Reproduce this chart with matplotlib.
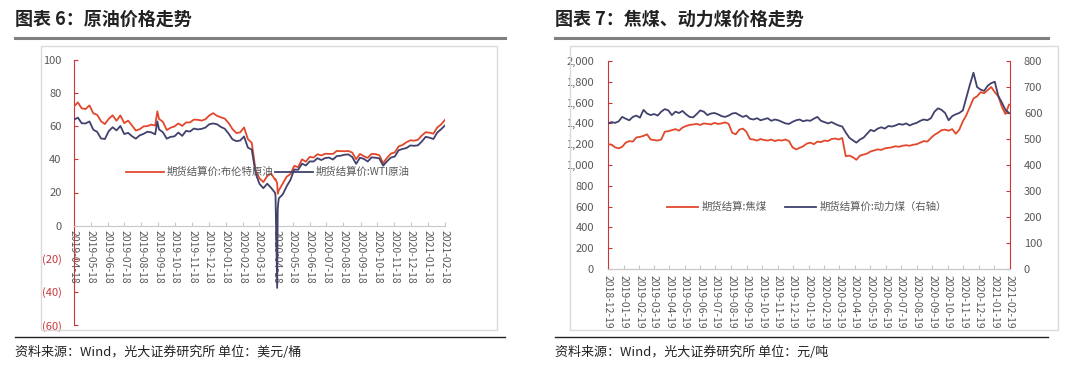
import matplotlib
matplotlib.use('Agg')
import matplotlib.pyplot as plt
from matplotlib.lines import Line2D
import numpy as np
import pandas as pd

plt.rcParams['font.family'] = ['Noto Sans CJK SC', 'DejaVu Sans']
plt.rcParams['axes.unicode_minus'] = False

# ---------------- data: crude oil (weekly from 2019-04-18) ----------------
brent = [72.0, 74.4, 70.8, 70.4, 72.6, 67.8, 66.9, 63.0, 61.3, 64.5, 66.6, 63.3,
         66.5, 61.9, 63.4, 60.5, 57.4, 58.2, 59.9, 60.1, 61.0, 60.4, 64.4, 62.7,
         57.7, 59.1, 59.9, 61.7, 60.2, 62.3, 62.3, 64.0, 63.9, 63.4, 64.2, 66.5,
         67.9, 66.3, 65.4, 64.6, 62.0, 58.3, 55.9, 56.3, 59.3, 52.2, 50.0, 33.2,
         28.5, 26.3, 29.9, 31.5, 27.8, 21.3, 25.3, 29.5, 31.1, 36.1, 35.3, 40.0,
         38.6, 41.5, 41.1, 43.1, 42.4, 43.4, 43.3, 43.3, 45.1, 45.0, 44.9, 45.1,
         44.1, 40.1, 43.3, 41.9, 40.9, 43.3, 43.2, 42.5, 37.7, 40.9, 43.5, 44.2,
         47.8, 48.7, 50.3, 51.5, 51.3, 51.8, 54.4, 56.4, 56.1, 55.5, 59.3, 61.1,
         63.9]
wti = [64.0, 65.2, 61.8, 61.7, 62.9, 57.9, 56.6, 52.6, 52.3, 57.1, 59.4, 57.5,
       60.2, 55.3, 56.0, 54.0, 52.5, 54.5, 55.4, 56.7, 56.3, 55.1, 58.1, 56.4,
       52.5, 53.6, 53.9, 56.2, 54.2, 57.2, 56.8, 58.6, 58.1, 58.4, 59.2, 61.2,
       61.7, 61.2, 59.6, 58.5, 55.6, 52.1, 51.0, 51.4, 53.8, 47.1, 45.9, 31.5,
       25.2, 22.6, 25.3, 22.8, 19.9, 16.5, 18.8, 23.6, 27.6, 33.9, 33.7, 37.4,
       36.3, 38.8, 38.7, 40.7, 39.6, 40.8, 41.1, 39.9, 42.0, 42.2, 42.8, 43.0,
       41.4, 37.3, 41.0, 40.3, 38.7, 41.2, 41.0, 40.6, 36.2, 38.8, 41.1, 41.7,
       45.5, 46.3, 46.8, 48.4, 48.2, 48.5, 50.8, 53.6, 53.1, 52.3, 56.2, 58.2,
       60.5]
oil_extra_dates = ['2019-09-16', '2020-04-17', '2020-04-20', '2020-04-21', '2020-04-22']
oil_extra_brent = [69.0, 28.1, 25.6, 19.3, 20.4]
oil_extra_wti = [62.9, 18.3, -37.6, 10.0, 13.8]

# ---------------- data: coal (weekly from 2018-12-19) ----------------
coking = [1200, 1195, 1170, 1160, 1175, 1215, 1230, 1225, 1265, 1270, 1280, 1295,
          1245, 1240, 1235, 1245, 1320, 1325, 1335, 1345, 1330, 1360, 1375, 1385,
          1390, 1395, 1385, 1400, 1395, 1390, 1405, 1395, 1400, 1410, 1395, 1310,
          1295, 1340, 1350, 1320, 1250, 1245, 1235, 1250, 1240, 1235, 1245, 1230,
          1240, 1235, 1245, 1230, 1170, 1150, 1165, 1180, 1205, 1215, 1200, 1225,
          1220, 1235, 1230, 1250, 1255, 1245, 1260, 1085, 1090, 1075, 1050, 1090,
          1100, 1110, 1130, 1140, 1150, 1145, 1160, 1165, 1170, 1180, 1175, 1185,
          1190, 1185, 1195, 1200, 1215, 1230, 1225, 1260, 1290, 1310, 1335, 1340,
          1330, 1345, 1300, 1340, 1420, 1480, 1560, 1640, 1660, 1700, 1690, 1720,
          1750, 1700, 1660, 1560, 1490, 1580]
thermal = [560, 565, 562, 568, 585, 578, 572, 585, 590, 582, 612, 598,
           592, 596, 590, 605, 615, 610, 592, 605, 600, 608, 595, 585,
           583, 596, 610, 605, 592, 598, 600, 595, 588, 585, 590, 598,
           600, 592, 585, 590, 578, 575, 580, 572, 576, 580, 570, 575,
           572, 566, 560, 558, 566, 572, 575, 568, 572, 570, 578, 585,
           570, 565, 560, 565, 558, 552, 548, 525, 505, 495, 486, 498,
           505, 520, 535, 530, 540, 545, 540, 550, 548, 552, 558, 555,
           560, 552, 558, 562, 570, 575, 572, 580, 605, 618, 612, 600,
           572, 588, 595, 600, 610, 660, 710, 755, 700, 690, 685, 705,
           715, 720, 665, 640, 612, 600]

oil_ticks = pd.date_range('2019-04-18', '2021-02-18', freq=pd.DateOffset(months=1))
coal_ticks = pd.date_range('2018-12-19', '2021-02-19', freq=pd.DateOffset(months=1))

RED = '#E2482B'
NAVY = '#40416C'
AXRED = '#C8363A'
GRAY = '#595959'

W, H = 1080, 368
fig = plt.figure(figsize=(W / 100, H / 100), dpi=100)


def fx(x):
    return x / W


def fy(y):
    return 1 - y / H


def frame(x0, x1, title, source, bx0, bx1):
    fig.text(fx(x0), fy(19), title, fontsize=13, fontweight='bold', color='#222222', va='center')
    fig.add_artist(Line2D([fx(x0), fx(x1)], [fy(38), fy(38)], color='#7F7F7F', lw=2.2))
    fig.add_artist(plt.Rectangle((fx(bx0), fy(330)), fx(bx1) - fx(bx0), fy(46) - fy(330),
                                 fill=False, ec='#DADADA', lw=1))
    fig.add_artist(Line2D([fx(x0), fx(x1)], [fy(337), fy(337)], color='#222222', lw=1))
    fig.text(fx(x0), fy(352), source, fontsize=9.4, color='#222222', va='center')


frame(15, 505, '图表 6：原油价格走势', '资料来源：Wind，光大证券研究所 单位：美元/桶', 41, 497)
frame(555, 1048, '图表 7：焦煤、动力煤价格走势', '资料来源：Wind，光大证券研究所 单位：元/吨', 570, 1058)

# ---------------- left chart ----------------
oil = pd.DataFrame({'brent': brent, 'wti': wti},
                   index=pd.date_range('2019-04-18', periods=len(brent), freq='7D'))
extra = pd.DataFrame({'brent': oil_extra_brent, 'wti': oil_extra_wti},
                     index=pd.to_datetime(oil_extra_dates))
oil = pd.concat([oil, extra]).sort_index()

ax = fig.add_axes([fx(74), fy(325), fx(445) - fx(74), fy(60) - fy(325)])
ax.spines['bottom'].set_position(('data', 0))
ax.plot(oil.index, oil['brent'], color=RED, lw=1.3, zorder=3, label='期货结算价:布伦特原油')
ax.plot(oil.index, oil['wti'], color=NAVY, lw=1.3, zorder=3, label='期货结算价:WTI原油')
ax.set_xlim(oil_ticks[0], oil_ticks[-1])
ax.set_ylim(-60, 100)
yt = [100, 80, 60, 40, 20, 0, -20, -40, -60]
ax.set_yticks(yt)
ax.set_yticklabels([str(v) if v >= 0 else '(%d)' % -v for v in yt])
for v, lbl in zip(yt, ax.get_yticklabels()):
    lbl.set_color(AXRED if v < 0 else GRAY)
ax.set_xticks(oil_ticks)
ax.set_xticklabels([d.strftime('%Y-%m-%d') for d in oil_ticks], rotation=-90, va='top', ha='center')
ax.spines['top'].set_visible(False)
ax.spines['right'].set_visible(False)
ax.spines['left'].set_color(AXRED)
ax.spines['bottom'].set_color('#C8C8C8')
ax.tick_params(axis='y', direction='in', length=3, color=AXRED, labelsize=8, pad=9)
ax.tick_params(axis='x', direction='in', length=3, color='#C8C8C8', labelsize=7.5,
               labelcolor=GRAY, pad=3)
ax.patch.set_visible(False)
ax.legend(loc='center', bbox_to_anchor=(fx(268), fy(172)), bbox_transform=fig.transFigure,
          ncol=2, frameon=False, fontsize=7.5, labelcolor=GRAY, handlelength=3.6,
          columnspacing=0.2, handletextpad=0.3)

# ---------------- right chart ----------------
coal_idx = pd.date_range('2018-12-19', periods=len(coking), freq='7D')
ax2 = fig.add_axes([fx(608), fy(269), fx(1010) - fx(608), fy(61) - fy(269)])
l1, = ax2.plot(coal_idx, coking, color=RED, lw=1.3, zorder=3)
ax2.set_ylim(0, 2000)
ax2.set_xlim(coal_ticks[0], coal_ticks[-1])
ax3 = ax2.twinx()
l2, = ax3.plot(coal_idx, thermal, color=NAVY, lw=1.3, zorder=3)
ax3.set_ylim(0, 800)
ax2.set_yticks(range(0, 2001, 200))
ax2.set_yticklabels(['{:,}'.format(v) for v in range(0, 2001, 200)])
ax3.set_yticks(range(0, 801, 100))
ax2.set_xticks(coal_ticks)
ax2.set_xticklabels([d.strftime('%Y-%m-%d') for d in coal_ticks], rotation=-90, va='top', ha='center')
for a in (ax2, ax3):
    a.spines['top'].set_visible(False)
    a.spines['bottom'].set_color('#C8C8C8')
    a.patch.set_visible(False)
ax2.spines['right'].set_visible(False)
ax2.spines['left'].set_color(AXRED)
ax3.spines['left'].set_visible(False)
ax3.spines['right'].set_color(AXRED)
ax2.tick_params(axis='y', direction='in', length=3, color=AXRED, labelsize=8,
                labelcolor=GRAY, pad=10)
ax3.tick_params(axis='y', direction='in', length=3, color=AXRED, labelsize=8,
                labelcolor=GRAY, pad=10)
ax2.tick_params(axis='x', direction='in', length=3, color='#C8C8C8', labelsize=7.5,
                labelcolor=GRAY, pad=4)
ax3.legend([l1, l2], ['期货结算:焦煤', '期货结算价:动力煤（右轴）'], loc='center',
           bbox_to_anchor=(fx(807), fy(207)), bbox_transform=fig.transFigure,
           ncol=2, frameon=False, fontsize=7.5, labelcolor=GRAY, handlelength=3,
           columnspacing=1.8, handletextpad=0.3)

fig.savefig('out.png', dpi=100)
